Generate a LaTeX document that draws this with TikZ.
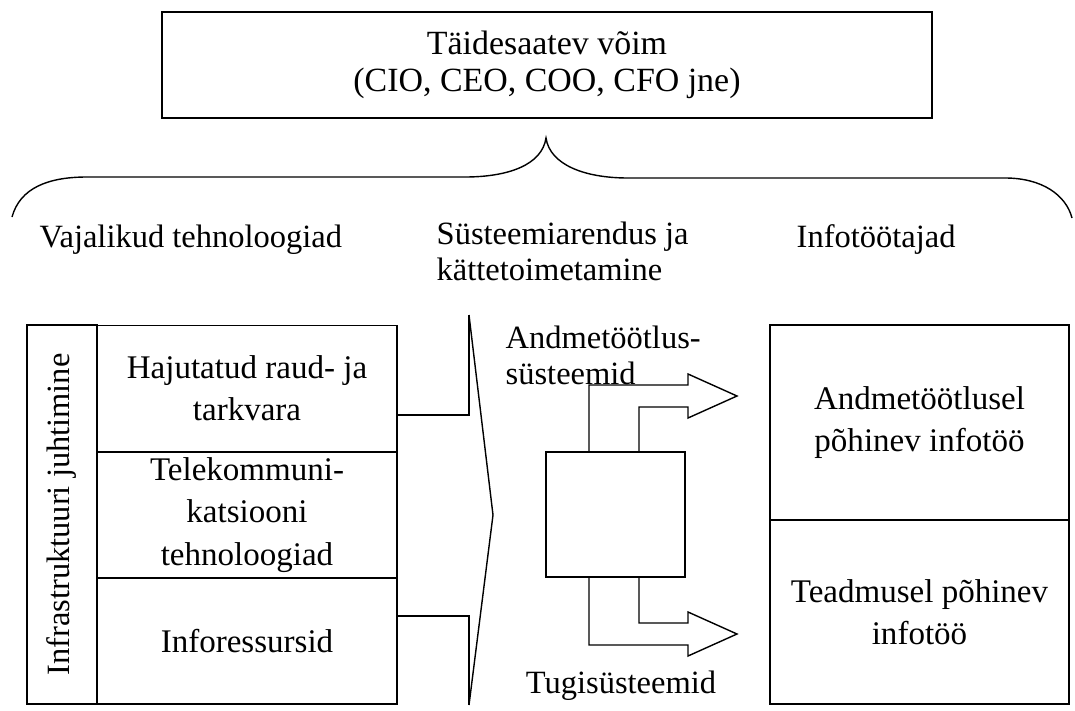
\documentclass[tikz,border=0pt]{standalone}
\usepackage{fontspec}
\setmainfont{Liberation Serif}
\usepackage{tikz}
\tikzstyle{box}=[draw,rectangle,align=center,inner sep=0pt]
\tikzstyle{cell}=[box,font=\fontsize{18.8}{24}\selectfont]
\tikzstyle{txt}=[inner sep=0pt,align=center]
\begin{document}
\begin{tikzpicture}[x=0.02cm,y=-0.02cm,line width=0.8pt,
    font=\fontsize{18.5}{20.5}\selectfont]
  \useasboundingbox (0,0) rectangle (1075,710);
  \node[box,minimum width=15.4cm,minimum height=2.12cm,
        font=\fontsize{19.3}{21}\selectfont] (top) at (547,65)
    {Täidesaatev võim\\(CIO, CEO, COO, CFO jne)};
  % brace under the top box
  \draw (12,217) .. controls (20,188) and (48,177) .. (87,177) -- (465,177)
    .. controls (508,177) and (542,165) .. (546,138)
    .. controls (550,165) and (585,178) .. (628,178) -- (1005,178)
    .. controls (1042,178) and (1066,195) .. (1072,218);
  \node[txt,anchor=west] (tech) at (39,240) {Vajalikud tehnoloogiad};
  \node[txt,anchor=west,align=left] (dev) at (436,251) {Süsteemiarendus ja\\kättetoimetamine};
  \node[txt,anchor=west] (work) at (796,240) {Infotöötajad};
  % left block
  \node[box,rotate=90,minimum width=7.58cm,minimum height=1.4cm] (col) at (62,514.5)
    {Infrastruktuuri juhtimine};
  \foreach \name/\y/\text in {r1/388.5/{Hajutatud raud- ja\\tarkvara},
                              r2/515/{Telekommuni-\\katsiooni\\tehnoloogiad},
                              r3/641/{Inforessursid}}
    \node[cell,minimum width=6cm,minimum height=2.52cm] (\name) at (247,\y) {\text};
  % chevron
  \coordinate (chtop) at (469,315);
  \coordinate (chtip) at (493,515);
  \coordinate (chbot) at (469,705);
  \draw (chtop) -- (chtip) -- (chbot);
  \draw ([yshift=-0.53cm]r1.east) -| (chtop);
  \draw ([yshift=0.5cm]r3.east) -| (chbot);
  % middle
  \node[box,minimum width=2.78cm,minimum height=2.5cm] (proc) at (615.5,514.5) {};
  \node[txt,anchor=west,align=left] (ds) at (505,355) {Andmetöötlus-\\süsteemid};
  \node[txt] (ts) at (621,686) {Tugisüsteemid};
  \draw ([xshift=-0.53cm]proc.north) -- (589,385) -- (688,385) -- (688,374) -- (737,396)
    -- (688,418) -- (688,407) -- (639,407) -- ([xshift=0.47cm]proc.north);
  \draw ([xshift=-0.53cm]proc.south) -- (589,645) -- (688,645) -- (688,656) -- (737,634)
    -- (688,612) -- (688,623) -- (639,623) -- ([xshift=0.47cm]proc.south);
  % right block
  \node[cell,minimum width=5.98cm,minimum height=3.9cm] (w1) at (919.5,422.5)
    {Andmetöötlusel\\põhinev infotöö};
  \node[cell,minimum width=5.98cm,minimum height=3.68cm] (w2) at (919.5,612)
    {Teadmusel põhinev\\infotöö};
\end{tikzpicture}
\end{document}
